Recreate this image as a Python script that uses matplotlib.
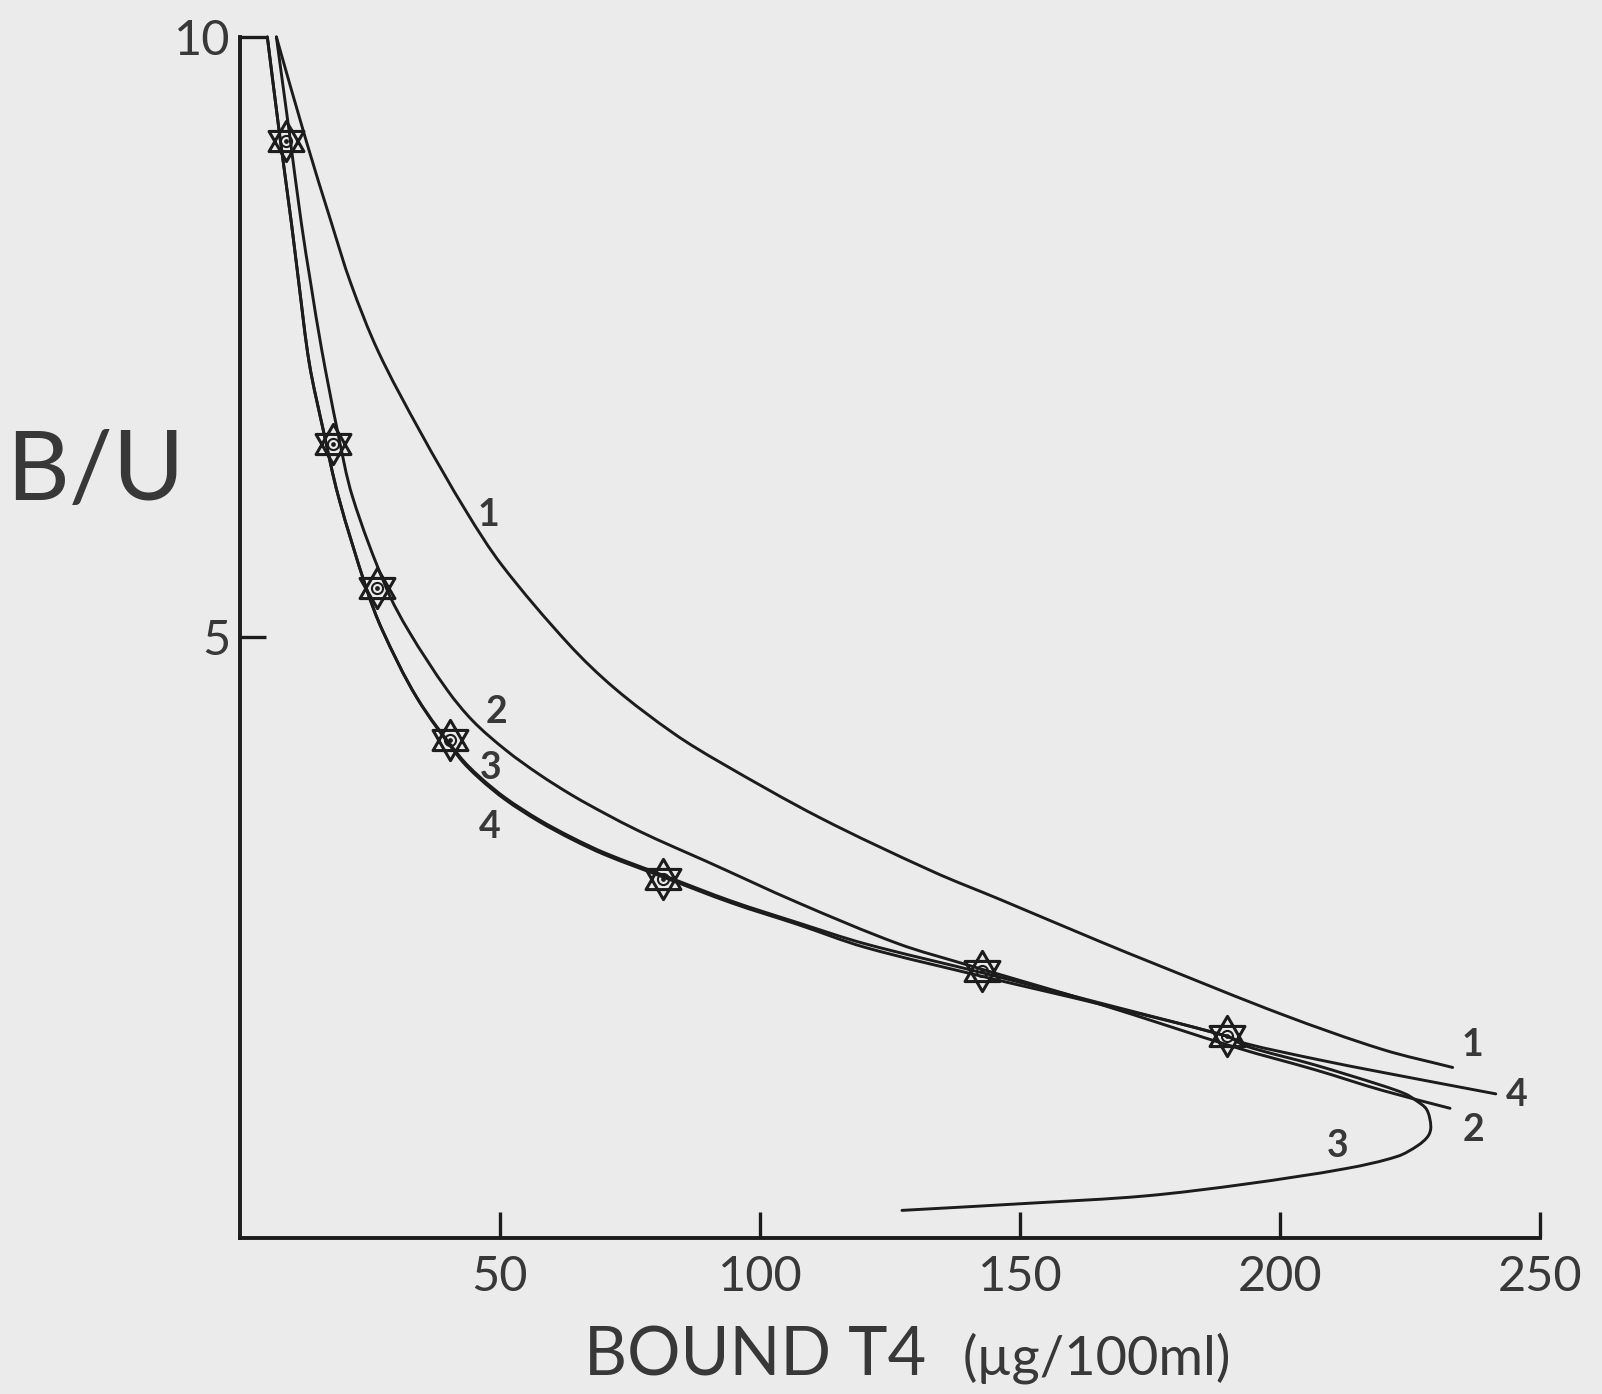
import numpy as np
import matplotlib
matplotlib.use("Agg")
import matplotlib.pyplot as plt
from matplotlib.path import Path
from matplotlib.patches import PathPatch

plt.rcParams['font.family'] = ['Lato', 'DejaVu Sans']

# ---------------- data ----------------
# measured points: bound T4 (ug/100ml) and B/U
point_x = [8.8, 17.8, 26.4, 40.3, 81.4, 142.6, 189.8]
point_y = [9.13, 6.61, 5.41, 4.15, 2.99, 2.22, 1.68]

# curve 1
c1_x = [7.0, 12.7, 17.6, 21.3, 26.6, 34.7, 43.5, 50.4, 63.1, 71.96, 83.45, 92.37,
        111.5, 133.3, 146.1, 165.3, 175.5, 200.5, 219.7, 233.2]
c1_y = [10.0, 9.14, 8.45, 7.95, 7.38, 6.71, 6.05, 5.60, 4.95, 4.58, 4.20, 3.96,
        3.50, 3.05, 2.82, 2.47, 2.29, 1.86, 1.57, 1.42]

# curve 2
c2_x = [7.0, 9.5, 11.8, 13.6, 15.7, 18.75, 21.65, 28.15, 32.5, 39.78, 44.83,
        51.19, 57.55, 63.93, 70.33, 76.71, 83.10, 89.5, 107.4, 126.6, 139.4,
        165.1, 192.0, 206.8, 219.6, 232.7]
c2_y = [10.0, 9.20, 8.45, 7.95, 7.40, 6.72, 6.17, 5.41, 5.05, 4.567, 4.303,
        4.06, 3.86, 3.685, 3.531, 3.389, 3.262, 3.14, 2.79, 2.45, 2.28,
        1.95, 1.58, 1.40, 1.23, 1.08]

# curve 3
c3_x = [5.26, 7.58, 9.89, 11.32, 13.34, 16.05, 18.95, 24.29, 27.39, 34.0, 42.15,
        45.95, 51.05, 57.43, 63.82, 70.23, 81.4, 94.52, 107.3, 120.2, 142.6,
        165.1, 189.8, 193.3, 206.8, 219.6, 224.1, 226.0, 228.2, 229.0,
        228.5, 226.5, 222.6, 212.9, 193.5, 174.0, 152.0, 127.3]
c3_y = [10.0, 9.20, 8.45, 7.95, 7.28, 6.72, 6.17, 5.41, 5.06, 4.50, 4.00,
        3.83, 3.649, 3.47, 3.32, 3.19, 3.005, 2.79, 2.61, 2.42, 2.18,
        1.95, 1.68, 1.60, 1.44, 1.27, 1.20, 1.15, 1.07, 0.93,
        0.85, 0.77, 0.68, 0.58, 0.45, 0.35, 0.29, 0.23]

# curve 4
c4_x = [5.26, 7.58, 9.89, 11.32, 13.34, 16.05, 18.95, 24.29, 27.39, 34.0, 42.15,
        45.95, 51.05, 57.43, 63.82, 70.23, 81.4, 94.52, 107.3, 120.2, 142.6,
        165.1, 189.8, 193.3, 206.8, 219.6, 241.5]
c4_y = [10.0, 9.20, 8.45, 7.95, 7.28, 6.72, 6.17, 5.41, 5.06, 4.50, 4.015,
        3.845, 3.664, 3.485, 3.335, 3.205, 3.02, 2.805, 2.625, 2.45, 2.21,
        1.96, 1.68, 1.62, 1.49, 1.38, 1.20]

curve_labels = ['1', '2', '3', '4']
x_ticks = [50, 100, 150, 200, 250]
y_ticks = [5, 10]

# ---------------- styling ----------------
BG = '#ebebeb'
LINE = '#1c1c1c'
TEXT = '#383838'

fig = plt.figure(figsize=(16.02, 13.94), dpi=100, facecolor=BG)
ax = fig.add_axes([0.1498, 0.1119, 0.8115, 0.8616])
ax.set_facecolor(BG)

ax.set_xlim(0, 250)
ax.set_ylim(0, 10)
for side in ('top', 'right'):
    ax.spines[side].set_visible(False)
for side in ('left', 'bottom'):
    ax.spines[side].set_linewidth(2.8)
    ax.spines[side].set_color(LINE)

ax.set_xticks(x_ticks)
ax.set_yticks(y_ticks)
ax.set_xticklabels([str(v) for v in x_ticks])
ax.set_yticklabels([str(v) for v in y_ticks])
ax.tick_params(axis='both', direction='in', length=19, width=2.4, color=LINE,
               labelsize=35, labelcolor=TEXT)
ax.tick_params(axis='x', pad=12)
ax.tick_params(axis='y', pad=7)


def smooth_curve(xs, ys):
    """Smooth (Hermite / Catmull-Rom style) path through the read points."""
    P = np.column_stack([xs, ys]).astype(float)
    D = ax.transData.transform(P)
    seg = np.hypot(*np.diff(D, axis=0).T)
    t = np.concatenate([[0], np.cumsum(seg)])
    n = len(P)
    m = np.zeros_like(P)
    for i in range(n):
        a = max(i - 1, 0)
        b = min(i + 1, n - 1)
        m[i] = (P[b] - P[a]) / (t[b] - t[a])
    verts = [P[0]]
    codes = [Path.MOVETO]
    for i in range(n - 1):
        h = t[i + 1] - t[i]
        verts += [P[i] + m[i] * h / 3, P[i + 1] - m[i + 1] * h / 3, P[i + 1]]
        codes += [Path.CURVE4] * 3
    return Path(verts, codes)


for cx, cy in ((c1_x, c1_y), (c2_x, c2_y), (c3_x, c3_y), (c4_x, c4_y)):
    patch = PathPatch(smooth_curve(cx, cy), facecolor='none', edgecolor=LINE,
                      lw=2.1, joinstyle='round', capstyle='round',
                      transform=ax.transData, clip_on=False, zorder=3)
    ax.add_patch(patch)

# hexagram marker (two overlapping triangles)
s = np.sqrt(3) / 2
star = Path([(0, 1), (-s, -0.5), (s, -0.5), (0, 1),
             (0, -1), (-s, 0.5), (s, 0.5), (0, -1)],
            [Path.MOVETO, Path.LINETO, Path.LINETO, Path.CLOSEPOLY,
             Path.MOVETO, Path.LINETO, Path.LINETO, Path.CLOSEPOLY])
ax.plot(point_x, point_y, linestyle='none', marker=star, ms=29,
        mfc='none', mec=LINE, mew=2.2, zorder=5, clip_on=False)
ax.plot(point_x, point_y, linestyle='none', marker='o', ms=8,
        mfc='none', mec=LINE, mew=1.5, zorder=5, clip_on=False)
ax.plot(point_x, point_y, linestyle='none', marker='o', ms=2.4,
        mfc=LINE, mec=LINE, zorder=5, clip_on=False)

# curve labels
lab_kw = dict(fontsize=27, fontweight='bold', color=TEXT, ha='center', va='center')
left_pos = [(47.7, 6.02), (49.4, 4.38), (48.2, 3.91), (48.1, 3.42)]
right_pos = [(237.0, 1.61), (237.2, 0.90), (211.0, 0.77), (245.6, 1.19)]
for lab, (lx, ly) in zip(curve_labels, left_pos):
    ax.text(lx, ly, lab, **lab_kw)
for lab, (lx, ly) in zip(curve_labels, right_pos):
    ax.text(lx, ly, lab, clip_on=False, **lab_kw)

# axis titles
fig.text(95 / 1602, 1 - 500 / 1394, 'B/U', fontsize=70, color=TEXT,
         ha='center', va='baseline')
fig.text(755 / 1602, 1 - 1376 / 1394, 'BOUND T4', fontsize=48, color=TEXT,
         ha='center', va='baseline')
fig.text(963 / 1602, 1 - 1374 / 1394, '(µg/100ml)', fontsize=39, color=TEXT,
         ha='left', va='baseline')

fig.savefig('out.png', dpi=100, facecolor=BG)
